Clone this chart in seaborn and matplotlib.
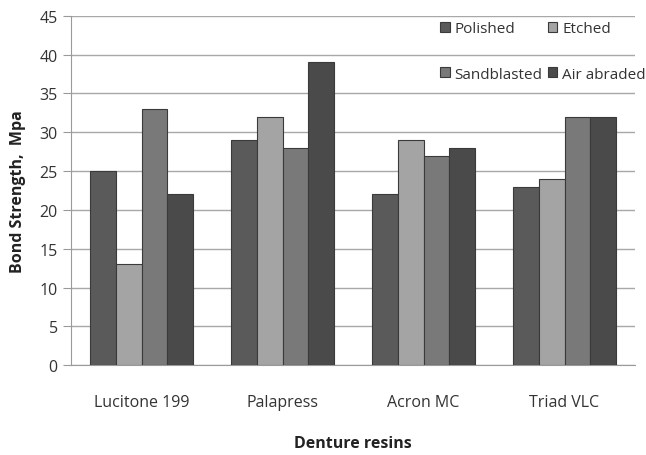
# Bond strength of denture resins by surface treatment
import pandas as pd
import seaborn as sns
import matplotlib.pyplot as plt

resins = ["Lucitone 199", "Palapress", "Acron MC", "Triad VLC"]
treatments = ["Polished", "Etched", "Sandblasted", "Air abraded"]
polished = [25, 29, 22, 23]
etched = [13, 32, 29, 24]
sandblasted = [33, 28, 27, 32]
air_abraded = [22, 39, 28, 32]

df = pd.DataFrame({
    "resin": resins * 4,
    "treatment": [t for t in treatments for _ in resins],
    "strength": polished + etched + sandblasted + air_abraded,
})

palette = {"Polished": "#5a5a5a", "Etched": "#a4a4a4",
           "Sandblasted": "#797979", "Air abraded": "#4a4a4a"}

sns.set_style("white")
plt.rcParams['font.family'] = ['Open Sans', 'DejaVu Sans']

fig = plt.figure(figsize=(6.46, 4.56), dpi=100)
ax = fig.add_axes([0.11, 0.197, 0.873, 0.766])

sns.barplot(data=df, x="resin", y="strength", hue="treatment",
            order=resins, hue_order=treatments, palette=palette,
            width=0.73, edgecolor="#3a3a3a", linewidth=0.8,
            saturation=1, ax=ax, zorder=3)

ax.set_ylim(0, 45)
ax.set_yticks(range(0, 50, 5))
ax.yaxis.grid(True, color="#a8a8a8", linewidth=1, zorder=0)
ax.set_axisbelow(True)
for side in ["top", "right"]:
    ax.spines[side].set_visible(False)
for side in ["left", "bottom"]:
    ax.spines[side].set_color("#9a9a9a")
ax.tick_params(axis="y", length=6, color="#9a9a9a", labelsize=11.5,
               labelcolor="#333333", direction="out", left=True)
ax.tick_params(axis="x", length=0, labelsize=11.5, labelcolor="#333333", pad=21)

ax.set_xlabel("Denture resins", fontsize=11.5, fontweight="bold",
              color="#222222", labelpad=18)
ax.set_ylabel("Bond Strength,  Mpa", fontsize=11.5, fontweight="bold",
              color="#222222", labelpad=10)

# legend filled row by row: Polished, Etched / Sandblasted, Air abraded
handles, labels = ax.get_legend_handles_labels()
order = [0, 2, 1, 3]
ax.legend([handles[i] for i in order], [labels[i] for i in order],
          loc="upper left", bbox_to_anchor=(0.655, 0.985), ncol=2,
          frameon=False, fontsize=11, handlelength=0.6, handleheight=0.6,
          handletextpad=0.3, labelspacing=2.0, columnspacing=0.4,
          borderpad=0, borderaxespad=0, labelcolor="#333333")

plt.savefig("out.png", dpi=100)
